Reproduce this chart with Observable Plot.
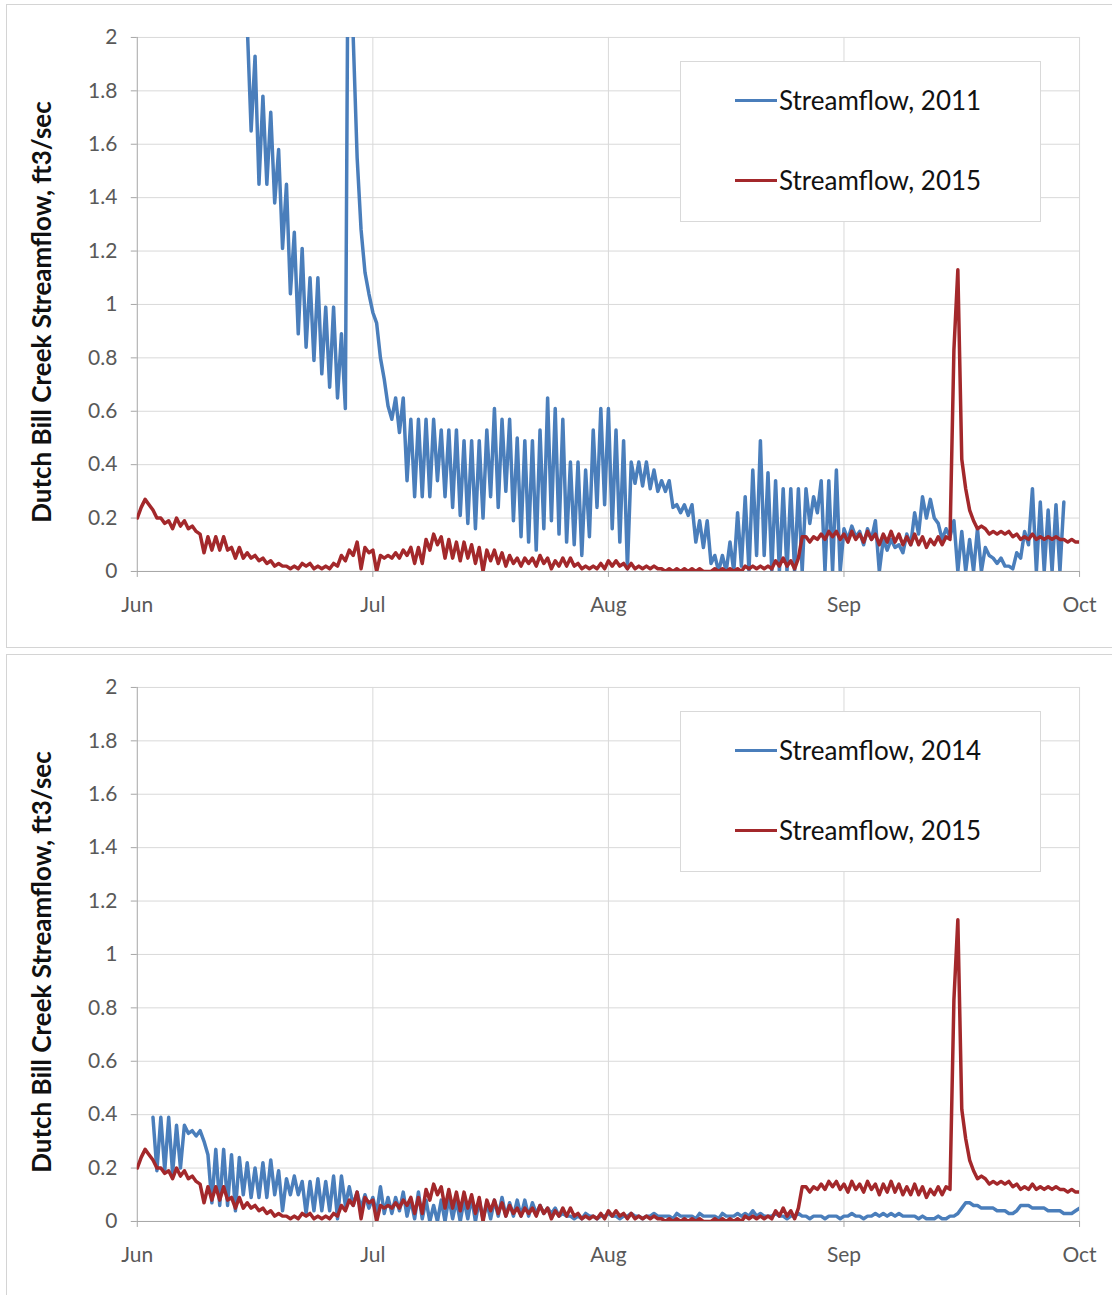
<!DOCTYPE html>
<html>
<head>
<meta charset="utf-8">
<script src="https://cdn.jsdelivr.net/npm/d3@7"></script>
<script src="https://cdn.jsdelivr.net/npm/@observablehq/plot@0.6"></script>
<style>
  html, body { margin: 0; padding: 0; background: #fff; overflow: hidden; }
  body { width: 1112px; height: 1295px; position: relative; font-family: Lato, "Open Sans", sans-serif; }
  .panel { position: absolute; left: 6px; width: 1112px; height: 644px; border: 1px solid #d4d4d4; box-sizing: border-box; background: #fff; }
  .panel svg { position: absolute; left: -1px; top: -1px; }
  .ylab { position: absolute; width: 560px; left: -246px; top: 291px; text-align: center; transform: rotate(-90deg);
          font: bold 26px Lato, sans-serif; color: #111; line-height: 32px; white-space: nowrap; }
  .legend { position: absolute; left: 673px; top: 56px; width: 361px; height: 161px; border: 1px solid #d9d9d9; box-sizing: border-box; background: #fff; }
  .item { position: absolute; left: 54px; height: 32px; white-space: nowrap; }
  .sw { position: absolute; left: 0; top: 15px; width: 42px; height: 3px; }
  .lt { position: absolute; left: 44px; top: 0; font: 26px Lato, sans-serif; line-height: 32px; color: #111; }
</style>
</head>
<body>
<div id="p1" class="panel" style="top:4px"></div>
<div id="p2" class="panel" style="top:654px"></div>
<script>
// ---- Axis definitions ----
const monthLabels = ["Jun", "Jul", "Aug", "Sep", "Oct"];
const monthStarts = ["2015-06-01", "2015-07-01", "2015-08-01", "2015-09-01", "2015-10-01"];
const yTicks = [0, 0.2, 0.4, 0.6, 0.8, 1, 1.2, 1.4, 1.6, 1.8, 2];
const yTickLabels = ["0", "0.2", "0.4", "0.6", "0.8", "1", "1.2", "1.4", "1.6", "1.8", "2"];

// ---- Streamflow (ft3/sec), one reading at 00:00 and one at 12:00 of each day, Jun 1 (day 0) .. Oct 1 (day 122) ----
// 2011 (blue, top panel) – values above 2 are off the chart
const flow2011Am = [3.9,3.7,3.5,3.4,3.3,3.1,3.0,2.9,2.8,2.7,2.6,2.5,2.4,2.3,2.05,1.93,1.78,1.72,1.58,1.45,
  1.27,1.21,1.10,1.10,0.99,0.99,0.89,3.20,1.55,1.12,0.97,0.80,0.62,0.65,0.65,0.57,0.57,0.57,0.57,0.53,
  0.53,0.53,0.49,0.49,0.49,0.53,0.61,0.57,0.57,0.50,0.49,0.49,0.53,0.65,0.61,0.57,0.41,0.41,0.38,0.53,
  0.61,0.61,0.53,0.49,0.41,0.41,0.41,0.38,0.34,0.34,0.25,0.25,0.25,0.19,0.19,0.06,0.06,0.11,0.22,0.28,
  0.38,0.49,0.37,0.34,0.31,0.31,0.31,0.31,0.28,0.34,0.34,0.38,0.16,0.17,0.15,0.16,0.19,0.12,0.12,0.10,
  0.14,0.22,0.28,0.27,0.18,0.16,0.19,0.15,0.12,0.16,0.09,0.05,0.05,0.02,0.07,0.15,0.31,0.26,0.23,0.25,
  0.26,null,null];
const flow2011Pm = [3.6,3.4,3.3,3.1,3.0,2.9,2.8,2.7,2.6,2.5,2.4,2.3,2.2,2.1,1.65,1.45,1.45,1.38,1.21,1.04,
  0.89,0.84,0.79,0.74,0.69,0.65,0.61,2.00,1.28,1.04,0.93,0.72,0.57,0.52,0.34,0.28,0.28,0.28,0.34,0.28,
  0.24,0.21,0.18,0.16,0.20,0.28,0.24,0.30,0.19,0.13,0.11,0.08,0.16,0.19,0.14,0.11,0.10,0.06,0.13,0.24,
  0.25,0.16,0.11,0.01,0.33,0.32,0.31,0.30,0.30,0.24,0.22,0.21,0.11,0.09,0.03,0.00,0.00,0.00,0.02,0.00,
  0.06,0.06,0.00,0.00,0.00,0.00,0.00,0.18,0.22,0.00,0.00,0.00,0.12,0.13,0.10,0.12,0.00,0.08,0.09,0.07,
  0.10,0.14,0.20,0.20,0.12,0.13,0.00,0.00,0.00,0.00,0.06,0.03,0.02,0.01,0.05,0.10,0.00,0.00,0.00,0.00,
  null,null,null];
// 2014 (blue, bottom panel)
const flow2014Am = [null,null,0.39,0.39,0.39,0.36,0.36,0.34,0.34,0.25,0.27,0.27,0.25,0.24,0.22,0.20,0.22,0.23,0.19,0.16,
  0.17,0.15,0.15,0.16,0.15,0.17,0.17,0.13,0.11,0.10,0.09,0.13,0.09,0.09,0.11,0.08,0.11,0.08,0.06,0.08,
  0.09,0.08,0.08,0.09,0.08,0.07,0.08,0.09,0.07,0.08,0.08,0.07,0.06,0.05,0.05,0.03,0.02,0.02,0.03,0.02,
  0.02,0.03,0.02,0.02,0.03,0.02,0.02,0.03,0.02,0.02,0.03,0.02,0.02,0.03,0.02,0.02,0.03,0.02,0.03,0.03,
  0.04,0.03,0.02,0.03,0.02,0.02,0.03,0.02,0.02,0.02,0.02,0.02,0.02,0.03,0.02,0.02,0.03,0.03,0.03,0.03,
  0.02,0.02,0.02,0.01,0.02,0.01,0.02,0.05,0.07,0.06,0.05,0.05,0.04,0.03,0.04,0.06,0.05,0.05,0.04,0.04,
  0.03,0.03,0.05];
const flow2014Pm = [null,null,0.19,0.19,0.18,0.20,0.33,0.32,0.30,0.07,0.06,0.06,0.04,0.10,0.09,0.09,0.09,0.10,0.04,0.10,
  0.10,0.03,0.04,0.04,0.04,0.01,0.06,0.06,0.05,0.05,0.03,0.03,0.03,0.04,0.02,0.01,0.01,0.00,0.00,0.00,
  0.01,0.00,0.01,0.00,0.01,0.01,0.02,0.02,0.02,0.02,0.02,0.03,0.03,0.03,0.02,0.02,0.01,0.01,0.02,0.01,
  0.02,0.02,0.01,0.02,0.02,0.01,0.02,0.02,0.02,0.01,0.02,0.02,0.01,0.02,0.02,0.01,0.02,0.02,0.02,0.02,
  0.02,0.02,0.02,0.02,0.01,0.02,0.02,0.01,0.02,0.01,0.02,0.01,0.02,0.02,0.01,0.02,0.02,0.02,0.02,0.02,
  0.02,0.01,0.01,0.01,0.01,0.02,0.03,0.07,0.06,0.05,0.05,0.04,0.04,0.03,0.06,0.06,0.05,0.05,0.04,0.04,
  0.03,0.04,null];
// 2015 (red, both panels)
const flow2015Am = [0.20,0.27,0.23,0.20,0.19,0.20,0.19,0.17,0.14,0.13,0.13,0.13,0.09,0.09,0.07,0.06,0.05,0.04,0.03,0.02,
  0.02,0.03,0.03,0.02,0.02,0.03,0.06,0.08,0.11,0.09,0.08,0.06,0.06,0.07,0.08,0.09,0.09,0.12,0.14,0.13,
  0.12,0.11,0.11,0.10,0.09,0.08,0.08,0.07,0.06,0.05,0.05,0.05,0.06,0.05,0.04,0.05,0.05,0.03,0.02,0.02,
  0.03,0.04,0.04,0.03,0.03,0.02,0.02,0.02,0.01,0.01,0.01,0.01,0.01,0.01,0.00,0.01,0.01,0.01,0.01,0.02,
  0.02,0.02,0.02,0.04,0.05,0.04,0.05,0.13,0.13,0.14,0.15,0.15,0.14,0.15,0.14,0.15,0.14,0.14,0.15,0.14,
  0.13,0.14,0.13,0.12,0.13,0.13,0.83,0.42,0.23,0.16,0.16,0.15,0.15,0.15,0.14,0.13,0.14,0.13,0.13,0.13,
  0.12,0.12,0.11];
const flow2015Pm = [0.24,0.25,0.20,0.18,0.16,0.17,0.16,0.15,0.07,0.08,0.08,0.08,0.05,0.05,0.05,0.04,0.03,0.02,0.02,0.01,
  0.01,0.02,0.01,0.01,0.01,0.02,0.04,0.06,0.01,0.07,0.00,0.05,0.05,0.05,0.06,0.03,0.03,0.08,0.10,0.05,
  0.05,0.04,0.05,0.03,0.00,0.04,0.03,0.02,0.03,0.02,0.03,0.02,0.03,0.01,0.02,0.02,0.02,0.01,0.01,0.01,
  0.01,0.02,0.02,0.01,0.01,0.01,0.01,0.01,0.00,0.00,0.00,0.00,0.00,0.00,0.00,0.00,0.00,0.00,0.00,0.01,
  0.01,0.01,0.01,0.02,0.02,0.01,0.13,0.11,0.12,0.12,0.13,0.12,0.11,0.12,0.11,0.12,0.10,0.11,0.11,0.10,
  0.10,0.10,0.09,0.10,0.10,0.12,1.13,0.31,0.19,0.17,0.14,0.14,0.14,0.13,0.12,0.12,0.12,0.12,0.12,0.12,
  0.11,0.11,null];

const blueColor = "#4a7ebb";
const redColor = "#a3282b";

// ---- helpers ----
const day0 = Date.UTC(2015, 5, 1);
const monthDates = monthStarts.map(s => new Date(s + "T00:00:00Z"));
const monthLabelByTime = new Map(monthDates.map((d, i) => [d.getTime(), monthLabels[i]]));
const yLabelByValue = new Map(yTicks.map((v, i) => [v, yTickLabels[i]]));

function toSeries(am, pm) {
  const pts = [];
  for (let d = 0; d < am.length; d++) {
    if (am[d] != null) pts.push({date: new Date(day0 + d * 864e5), flow: am[d]});
    if (pm[d] != null) pts.push({date: new Date(day0 + (d + 0.5) * 864e5), flow: pm[d]});
  }
  return pts;
}

function drawPanel(el, blueSeries, blueName, redSeries, redName) {
  const chart = Plot.plot({
    width: 1112, height: 644,
    marginLeft: 131, marginRight: 37, marginTop: 33, marginBottom: 76,
    style: {fontFamily: "Lato, sans-serif", fontSize: "21px", background: "transparent", overflow: "visible"},
    // months are equally spaced along the axis, as in the original chart
    x: {type: "utc", domain: monthDates, range: [131, 367, 603, 839, 1075]},
    y: {domain: [0, 2]},
    marks: [
      Plot.gridY(yTicks, {stroke: "#d9d9d9", strokeOpacity: 1}),
      Plot.gridX(monthDates.slice(1), {stroke: "#d9d9d9", strokeOpacity: 1}),
      Plot.axisY(yTicks, {tickFormat: v => yLabelByValue.get(v), tickSize: 6, tickPadding: 14,
        stroke: "#a6a6a6", fill: "#595959", label: null}),
      Plot.axisX(monthDates, {tickFormat: d => monthLabelByTime.get(d.getTime()), tickSize: 6, tickPadding: 20,
        stroke: "#a6a6a6", fill: "#595959", label: null}),
      Plot.ruleX([monthDates[0]], {stroke: "#a6a6a6"}),
      Plot.ruleY([0], {stroke: "#a6a6a6"}),
      Plot.line(blueSeries, {x: "date", y: "flow", stroke: blueColor, strokeWidth: 3.5, clip: true}),
      Plot.line(redSeries, {x: "date", y: "flow", stroke: redColor, strokeWidth: 3.5, clip: true})
    ]
  });
  el.appendChild(chart);
  const yl = document.createElement("div");
  yl.className = "ylab";
  yl.textContent = "Dutch Bill Creek Streamflow, ft3/sec";
  el.appendChild(yl);
  const lg = document.createElement("div");
  lg.className = "legend";
  [[blueName, blueColor, 22], [redName, redColor, 102]].forEach(([name, color, top]) => {
    const it = document.createElement("div");
    it.className = "item";
    it.style.top = top + "px";
    it.innerHTML = `<span class="sw" style="background:${color}"></span><span class="lt">${name}</span>`;
    lg.appendChild(it);
  });
  el.appendChild(lg);
}

const s2015 = toSeries(flow2015Am, flow2015Pm);
drawPanel(document.getElementById("p1"), toSeries(flow2011Am, flow2011Pm), "Streamflow, 2011", s2015, "Streamflow, 2015");
drawPanel(document.getElementById("p2"), toSeries(flow2014Am, flow2014Pm), "Streamflow, 2014", s2015, "Streamflow, 2015");
</script>
</body>
</html>
